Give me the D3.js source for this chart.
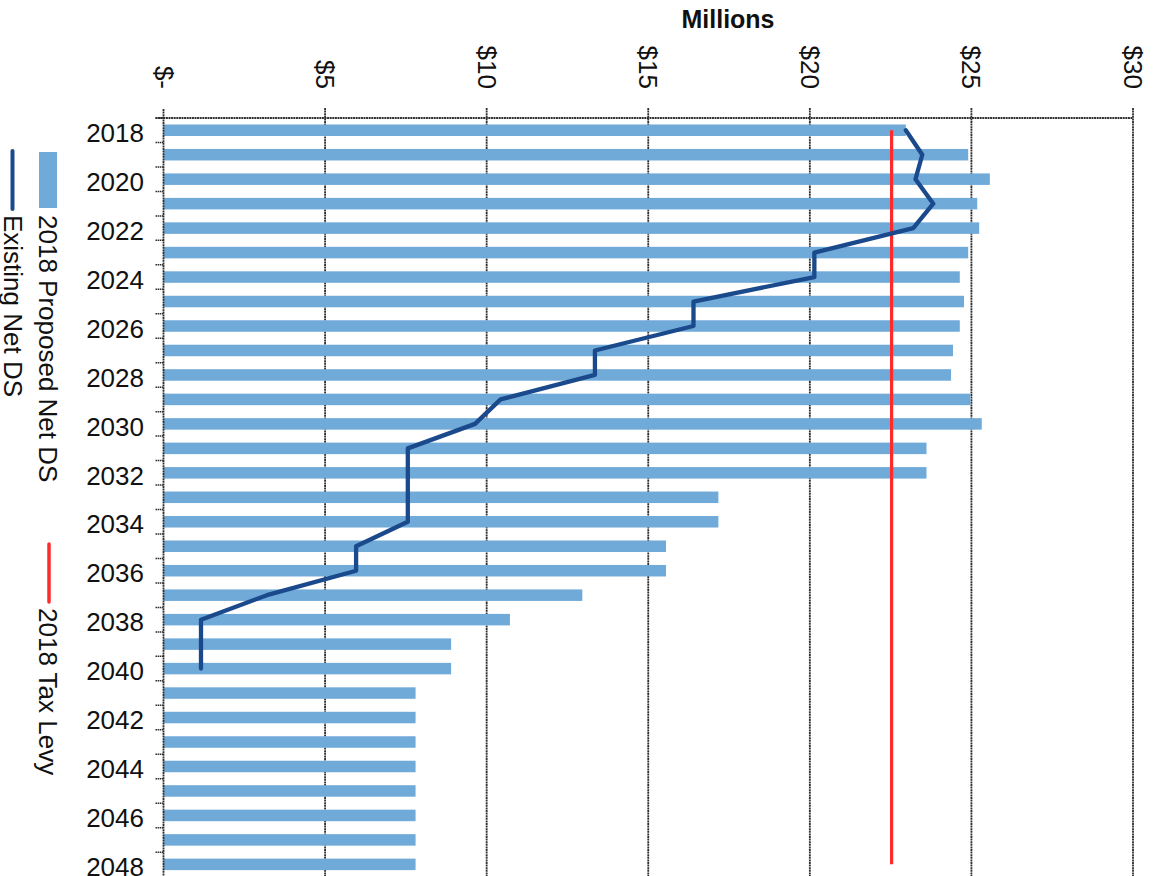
<!DOCTYPE html>
<html>
<head>
<meta charset="utf-8">
<script src="https://cdn.jsdelivr.net/npm/d3@7"></script>
<style>
  html, body { margin: 0; padding: 0; background: #fff; }
  svg { display: block; }
  text { font-family: "Liberation Sans", Arial, sans-serif; fill: #111; }
</style>
</head>
<body>
<script>
// ---- data (values in $ millions) ----
const years = [2018, 2019, 2020, 2021, 2022, 2023, 2024, 2025, 2026, 2027, 2028,
               2029, 2030, 2031, 2032, 2033, 2034, 2035, 2036, 2037, 2038, 2039,
               2040, 2041, 2042, 2043, 2044, 2045, 2046, 2047, 2048];
const proposedNetDS = [22.97, 24.90, 25.57, 25.18, 25.24, 24.90, 24.64, 24.77, 24.64, 24.43,
                       24.37, 24.97, 25.32, 23.61, 23.61, 17.17, 17.17, 15.55, 15.55, 12.96,
                       10.72, 8.90, 8.90, 7.80, 7.80, 7.80, 7.80, 7.80, 7.80, 7.80, 7.80];
const existingYears = [2018, 2019, 2020, 2021, 2022, 2023, 2024, 2025, 2026, 2027, 2028,
                       2029, 2030, 2031, 2032, 2033, 2034, 2035, 2036, 2037, 2038, 2039, 2040];
const existingNetDS = [22.97, 23.48, 23.27, 23.82, 23.20, 20.14, 20.14, 16.40, 16.40, 13.35,
                       13.35, 10.43, 9.64, 7.56, 7.56, 7.56, 7.56, 5.96, 5.96, 3.20,
                       1.16, 1.16, 1.16];
const taxLevy2018 = 22.53;
const valueTicks = [0, 5, 10, 15, 20, 25, 30];
const valueTickLabels = ["$-", "$5", "$10", "$15", "$20", "$25", "$30"];
const yearLabels = [2018, 2020, 2022, 2024, 2026, 2028, 2030, 2032, 2034, 2036, 2038,
                    2040, 2042, 2044, 2046, 2048];
const seriesNames = ["2018 Proposed Net DS", "Existing Net DS", "2018 Tax Levy"];

// ---- layout ----
const W = 1154, H = 876;
const plotLeft = 163.5, plotRight = 1133, plotTop = 118, plotBottom = 876.6;
const barColor = "#70aad8", lineColor = "#1b4a8c", levyColor = "#ff2b2b", gridColor = "#2e2e2e";

const svg = d3.select("body").append("svg").attr("width", W).attr("height", H);

const x = d3.scaleLinear().domain([0, 30]).range([plotLeft, plotRight]);
const pad = 0.53;
const y = d3.scaleBand().domain(years).range([plotTop, plotBottom])
  .paddingInner(pad).paddingOuter(pad / 2);
const yc = d => y(d) + y.bandwidth() / 2;
const step = y.step();

// gridlines + ticks above the top border
svg.append("g").selectAll("line").data(valueTicks.slice(1)).join("line")
  .attr("x1", d => x(d)).attr("x2", d => x(d))
  .attr("y1", plotTop - 10).attr("y2", H + 5)
  .attr("stroke", gridColor).attr("stroke-width", 1.8)
  .attr("stroke-dasharray", "2,0.6");

// top border
svg.append("line")
  .attr("x1", plotLeft - 8).attr("x2", x(30))
  .attr("y1", plotTop).attr("y2", plotTop)
  .attr("stroke", gridColor).attr("stroke-width", 1.8)
  .attr("stroke-dasharray", "2,0.6");

// bars
svg.append("g").selectAll("rect").data(years).join("rect")
  .attr("x", x(0))
  .attr("y", d => y(d))
  .attr("width", (d, i) => x(proposedNetDS[i]) - x(0))
  .attr("height", y.bandwidth())
  .attr("fill", barColor);

// category axis (left)
svg.append("line")
  .attr("x1", plotLeft).attr("x2", plotLeft)
  .attr("y1", plotTop - 9).attr("y2", H + 5)
  .attr("stroke", gridColor).attr("stroke-width", 1.8)
  .attr("stroke-dasharray", "2,0.6");
svg.append("g").selectAll("line").data(years).join("line")
  .attr("x1", plotLeft - 8).attr("x2", plotLeft)
  .attr("y1", d => y(d) - step * pad / 2)
  .attr("y2", d => y(d) - step * pad / 2)
  .attr("stroke", gridColor).attr("stroke-width", 1.5)
  .attr("stroke-dasharray", "1.5,0.6");

svg.append("g").selectAll("text").data(yearLabels).join("text")
  .attr("x", 144).attr("y", d => yc(d)).attr("dy", "0.45em")
  .attr("text-anchor", "end").attr("font-size", 26)
  .text(d => d);

// value tick labels (rotated)
svg.append("g").selectAll("text").data(valueTicks).join("text")
  .attr("transform", d => `translate(${x(d) - 9},89) rotate(90)`)
  .attr("text-anchor", "end").attr("font-size", 26)
  .text((d, i) => valueTickLabels[i]);

// title
svg.append("text").attr("x", 728).attr("y", 28)
  .attr("text-anchor", "middle").attr("font-size", 25).attr("font-weight", "bold")
  .text("Millions");

// tax levy line
svg.append("line")
  .attr("x1", x(taxLevy2018)).attr("x2", x(taxLevy2018))
  .attr("y1", yc(years[0])).attr("y2", yc(years[years.length - 1]))
  .attr("stroke", levyColor).attr("stroke-width", 3.2);

// existing net DS line
const line = d3.line().x(d => x(d[1])).y(d => yc(d[0]));
svg.append("path")
  .datum(existingYears.map((yr, i) => [yr, existingNetDS[i]]))
  .attr("d", line)
  .attr("fill", "none").attr("stroke", lineColor).attr("stroke-width", 4.3)
  .attr("stroke-linejoin", "round").attr("stroke-linecap", "round");

// legend (rotated)
const lg = svg.append("g");
lg.append("rect").attr("x", 39).attr("y", 152).attr("width", 18).attr("height", 56).attr("fill", barColor);
lg.append("text").attr("transform", "translate(39,215) rotate(90)").attr("font-size", 26).text(seriesNames[0]);
lg.append("line").attr("x1", 12.5).attr("x2", 12.5).attr("y1", 151).attr("y2", 209)
  .attr("stroke", lineColor).attr("stroke-width", 4).attr("stroke-linecap", "round");
lg.append("text").attr("transform", "translate(4,215) rotate(90)").attr("font-size", 26).text(seriesNames[1]);
lg.append("line").attr("x1", 49).attr("x2", 49).attr("y1", 544).attr("y2", 602)
  .attr("stroke", levyColor).attr("stroke-width", 3.5).attr("stroke-linecap", "round");
lg.append("text").attr("transform", "translate(39,608) rotate(90)").attr("font-size", 26).text(seriesNames[2]);
</script>
</body>
</html>
